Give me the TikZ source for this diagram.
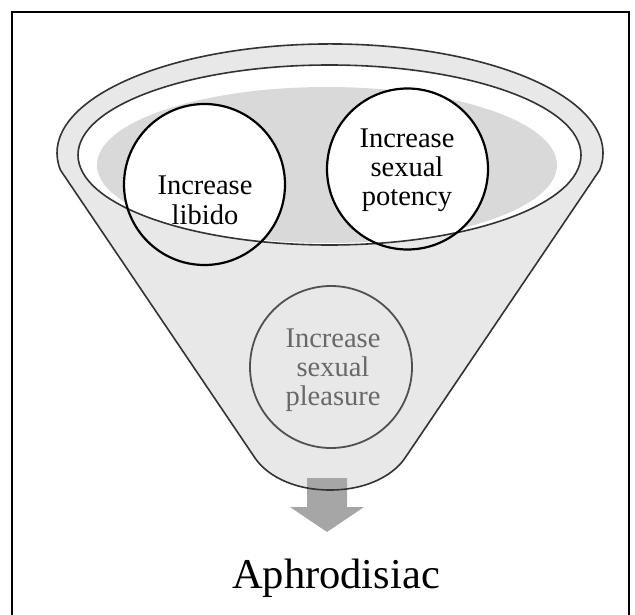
\documentclass[tikz,border=0pt]{standalone}
\usepackage{fontspec}
\setmainfont{Liberation Serif}
\definecolor{bodygray}{HTML}{E8E8E8}
\definecolor{liquidgray}{HTML}{D9D9D9}
\definecolor{arrowgray}{HTML}{A6A6A6}
\definecolor{edgegray}{HTML}{333333}
\definecolor{lowgray}{HTML}{505050}
\definecolor{lowtext}{HTML}{686868}
\begin{document}
\begin{tikzpicture}[x=1pt,y=-1pt,
  funline/.style={draw=edgegray, line width=1.6pt},
  topcircle/.style={circle, draw=black, line width=2.2pt, minimum size=161pt, inner sep=0pt},
  lowcircle/.style={circle, draw=lowgray, line width=1.8pt, minimum size=162pt, inner sep=0pt},
  lbl/.style={anchor=base, inner sep=0pt, font=\fontsize{28.5}{29}\selectfont},
  bigtext/.style={anchor=base, inner sep=0pt, font=\fontsize{42.5}{46}\selectfont},
]
\useasboundingbox (0,0) rectangle (635,615);
% frame
\draw[line width=2.8pt] (12,625) -- (12,12) -- (629,12) -- (629,625);

% key points
\coordinate (cL) at (204.5,184.5);
\coordinate (cR) at (407.5,169);
\coordinate (cB) at (331,367);

% funnel body fill
\fill[bodygray] (60.4,170) arc[start angle=171, end angle=369, x radius=273, y radius=109]
  -- (405,458) .. controls (395,473) and (370,490) .. (330,490)
  .. controls (290,490) and (265,473) .. (255,458) -- cycle;

% inner opening
\fill[white] (329.5,155) ellipse [x radius=251.5, y radius=90];
\begin{scope}
  \clip (329.5,155) ellipse [x radius=251.5, y radius=90];
  \fill[liquidgray] (327,165) ellipse [x radius=230, y radius=78];
  \fill[white] (cL) circle [radius=80.5];
  \fill[white] (cR) circle [radius=80.5];
\end{scope}

% arrow
\fill[arrowgray] (307,478) -- (347,478) -- (347,507) -- (364,507) -- (327,532)
  -- (290,507) -- (307,507) -- cycle;

% funnel outlines
\draw[funline] (60.4,170) arc[start angle=171, end angle=369, x radius=273, y radius=109]
  -- (405,458) .. controls (395,473) and (370,490) .. (330,490)
  .. controls (290,490) and (265,473) .. (255,458) -- cycle;
\draw[funline] (329.5,155) ellipse [x radius=251.5, y radius=90];

% circles
\node[topcircle] (libido) at (cL) {};
\node[topcircle] (potency) at (cR) {};
\node[lowcircle] (pleasure) at (cB) {};

% texts
\node[lbl] (tL) at (205,195) {\begin{tabular}[t]{@{}c@{}}Increase\\libido\end{tabular}};
\node[lbl] (tR) at (407,148) {\begin{tabular}[t]{@{}c@{}}Increase\\sexual\\potency\end{tabular}};
\node[lbl, text=lowtext] (tB) at (333,347) {\begin{tabular}[t]{@{}c@{}}Increase\\sexual\\pleasure\end{tabular}};
\node[bigtext] (aph) at (336,588) {Aphrodisiac};
\end{tikzpicture}
\end{document}
